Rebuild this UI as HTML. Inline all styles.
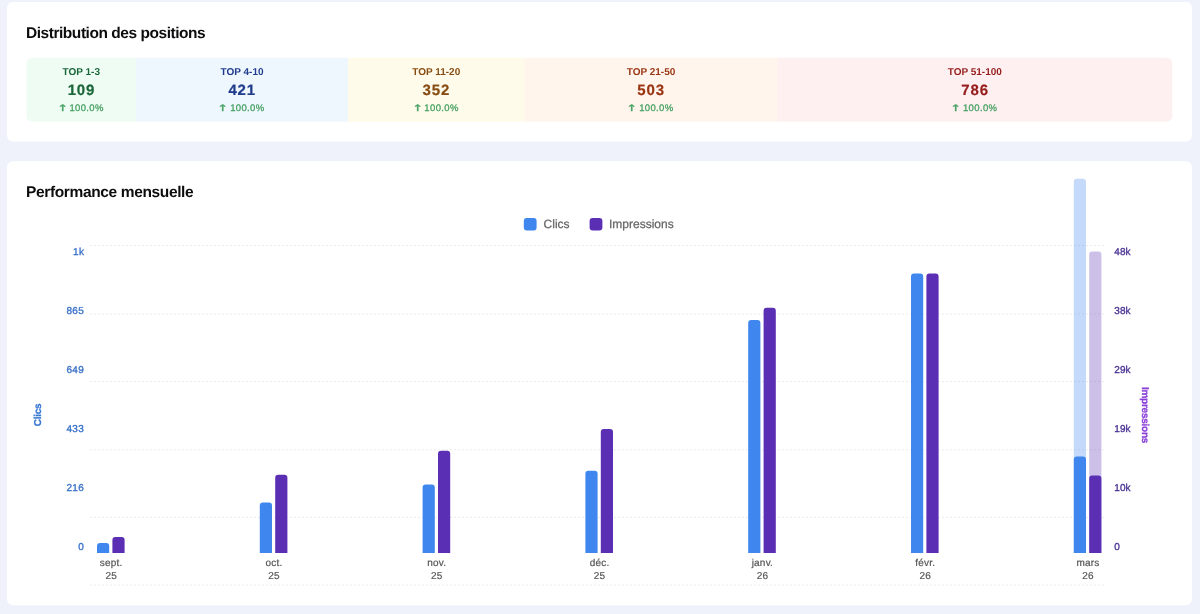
<!DOCTYPE html>
<html lang="fr">
<head>
<meta charset="utf-8">
<title>Distribution des positions</title>
<style>
*{box-sizing:border-box;margin:0;padding:0}
html,body{width:1200px;height:614px;overflow:hidden}
body{background:#eff2fa;font-family:"Liberation Sans",sans-serif;position:relative;color:#111;text-rendering:geometricPrecision}
h2{position:absolute;left:26px;font-size:15.5px;font-weight:700;color:#0d0d0f;white-space:nowrap;line-height:20px}
#t1{top:23.8px;letter-spacing:-.46px}
#t2{top:182.8px;letter-spacing:-.36px}
.seg{position:absolute;top:58px;height:64px;text-align:center}
.seg .l{position:absolute;left:0;right:0;top:9px;font-size:10px;font-weight:700;line-height:12px;letter-spacing:0}
.seg .v{position:absolute;left:0;right:0;top:23px;font-size:15px;font-weight:700;line-height:20px;letter-spacing:.9px;padding-left:.4px;-webkit-text-stroke:.2px currentColor}
.seg .d{position:absolute;left:0;right:.8px;top:45px;font-size:9.5px;font-weight:400;line-height:12px;color:#45a061;letter-spacing:.36px;-webkit-text-stroke:.28px #45a061}
.ar{font-family:"DejaVu Sans",sans-serif;font-size:9px;line-height:10px;letter-spacing:0;display:inline-block;transform:scaleX(1.5);margin-left:.6px;margin-right:.3px}
.s1{color:#196638}
.s2{color:#1f3b8c}
.s3{color:#874c12}
.s4{color:#9a3614}
.s5{color:#961d1d}
svg{position:absolute;left:0;top:0}
.card{fill:#fff}
.g{stroke:#e9eaed;stroke-width:1;stroke-dasharray:2 2}
.b{fill:#3f86ee}
.p{fill:#5b2fb3}
.bg{fill:#3f86ee;fill-opacity:.3}
.pg{fill:#5b2fb3;fill-opacity:.3}
.yl{position:absolute;font-size:10px;line-height:12px;color:#3a72c9;text-align:right;width:40px;left:44.3px;letter-spacing:.4px;margin-top:1px;-webkit-text-stroke:.35px #3a72c9}
.yr{position:absolute;font-size:10px;line-height:12px;color:#4d3596;text-align:left;width:40px;left:1114.3px;letter-spacing:.05px;margin-top:1px;-webkit-text-stroke:.35px #4d3596}
.xl{position:absolute;width:60px;text-align:center;font-size:10px;line-height:12.5px;color:#555;top:558.4px;letter-spacing:.2px;-webkit-text-stroke:.2px #555}
.leg{position:absolute;top:217.3px;font-size:12px;line-height:14px;color:#666;white-space:nowrap;-webkit-text-stroke:.25px #666}
.ax{position:absolute;font-size:10px;font-weight:700;line-height:12px;white-space:nowrap;letter-spacing:-.25px}
</style>
</head>
<body>
<svg width="1200" height="614" viewBox="0 0 1200 614">
<rect class="card" x="7.0" y="2" width="1185.0" height="139.6" rx="6"/>
<rect class="card" x="7.0" y="161.2" width="1185.0" height="444" rx="6"/>
<clipPath id="sc"><rect x="26.3" y="57.4" width="1146.0" height="64.4" rx="6"/></clipPath>
<g clip-path="url(#sc)">
<rect x="26.3" y="57.4" width="110.5" height="64.4" fill="#effcf3"/>
<rect x="136.3" y="57.4" width="212.0" height="64.4" fill="#eef6fe"/>
<rect x="347.8" y="57.4" width="177.4" height="64.4" fill="#fffbea"/>
<rect x="524.7" y="57.4" width="253.2" height="64.4" fill="#fff5ec"/>
<rect x="777.4" y="57.4" width="395.4" height="64.4" fill="#fef0f0"/>
</g>
<line class="g" x1="90" x2="1106" y1="245.6" y2="245.6"/>
<line class="g" x1="90" x2="1106" y1="314.0" y2="314.0"/>
<line class="g" x1="90" x2="1106" y1="381.6" y2="381.6"/>
<line class="g" x1="90" x2="1106" y1="449.8" y2="449.8"/>
<line class="g" x1="90" x2="1106" y1="517.3" y2="517.3"/>
<line class="g" x1="90" x2="1106" y1="585.1" y2="585.1"/>
<rect class="b" x="523.8" y="218" width="12.8" height="12.6" rx="3"/>
<rect class="p" x="589.6" y="218" width="12.8" height="12.6" rx="3"/>
<path class="bg" d="M1073.8 552.9V181.7a3 3 0 0 1 3 -3h6.2a3 3 0 0 1 3 3V552.9z"/>
<path class="pg" d="M1089.2 552.9V254.4a3 3 0 0 1 3 -3h6.2a3 3 0 0 1 3 3V552.9z"/>
<path class="b" d="M97.0 552.9V546.0a3 3 0 0 1 3 -3h6.2a3 3 0 0 1 3 3V552.9z"/>
<path class="p" d="M112.4 552.9V540.0a3 3 0 0 1 3 -3h6.2a3 3 0 0 1 3 3V552.9z"/>
<path class="b" d="M259.8 552.9V505.4a3 3 0 0 1 3 -3h6.2a3 3 0 0 1 3 3V552.9z"/>
<path class="p" d="M275.2 552.9V477.7a3 3 0 0 1 3 -3h6.2a3 3 0 0 1 3 3V552.9z"/>
<path class="b" d="M422.6 552.9V487.4a3 3 0 0 1 3 -3h6.2a3 3 0 0 1 3 3V552.9z"/>
<path class="p" d="M438.0 552.9V453.7a3 3 0 0 1 3 -3h6.2a3 3 0 0 1 3 3V552.9z"/>
<path class="b" d="M585.4 552.9V473.7a3 3 0 0 1 3 -3h6.2a3 3 0 0 1 3 3V552.9z"/>
<path class="p" d="M600.8 552.9V432.0a3 3 0 0 1 3 -3h6.2a3 3 0 0 1 3 3V552.9z"/>
<path class="b" d="M748.2 552.9V323.0a3 3 0 0 1 3 -3h6.2a3 3 0 0 1 3 3V552.9z"/>
<path class="p" d="M763.6 552.9V310.7a3 3 0 0 1 3 -3h6.2a3 3 0 0 1 3 3V552.9z"/>
<path class="b" d="M911.0 552.9V276.4a3 3 0 0 1 3 -3h6.2a3 3 0 0 1 3 3V552.9z"/>
<path class="p" d="M926.4 552.9V276.4a3 3 0 0 1 3 -3h6.2a3 3 0 0 1 3 3V552.9z"/>
<path class="b" d="M1073.8 552.9V459.4a3 3 0 0 1 3 -3h6.2a3 3 0 0 1 3 3V552.9z"/>
<path class="p" d="M1089.2 552.9V478.4a3 3 0 0 1 3 -3h6.2a3 3 0 0 1 3 3V552.9z"/>
</svg>
<h2 id="t1">Distribution des positions</h2>
<div class="seg s1" style="left:26.30px;width:110.00px"><div class="l">TOP 1-3</div><div class="v">109</div><div class="d"><span class="ar">↑</span> 100.0%</div></div>
<div class="seg s2" style="left:136.30px;width:211.52px"><div class="l">TOP 4-10</div><div class="v">421</div><div class="d"><span class="ar">↑</span> 100.0%</div></div>
<div class="seg s3" style="left:347.82px;width:176.85px"><div class="l">TOP 11-20</div><div class="v">352</div><div class="d"><span class="ar">↑</span> 100.0%</div></div>
<div class="seg s4" style="left:524.67px;width:252.72px"><div class="l">TOP 21-50</div><div class="v">503</div><div class="d"><span class="ar">↑</span> 100.0%</div></div>
<div class="seg s5" style="left:777.39px;width:394.91px"><div class="l">TOP 51-100</div><div class="v">786</div><div class="d"><span class="ar">↑</span> 100.0%</div></div>
<h2 id="t2">Performance mensuelle</h2>
<div class="leg" style="left:543.6px">Clics</div>
<div class="leg" style="left:609px">Impressions</div>
<div class="yl" style="top:245.6px">1k</div>
<div class="yr" style="top:245.6px">48k</div>
<div class="yl" style="top:304.7px">865</div>
<div class="yr" style="top:304.7px">38k</div>
<div class="yl" style="top:363.8px">649</div>
<div class="yr" style="top:363.8px">29k</div>
<div class="yl" style="top:422.9px">433</div>
<div class="yr" style="top:422.9px">19k</div>
<div class="yl" style="top:482.0px">216</div>
<div class="yr" style="top:482.0px">10k</div>
<div class="yl" style="top:541.1px">0</div>
<div class="yr" style="top:541.1px">0</div>
<div class="ax" style="left:38.8px;top:415.2px;color:#3a78d2;-webkit-text-stroke:.3px #3a78d2;transform:translate(-50%,-50%) rotate(-90deg)">Clics</div>
<div class="ax" style="left:1143.6px;top:415px;color:#8a3fd8;-webkit-text-stroke:.3px #8a3fd8;transform:translate(-50%,-50%) rotate(90deg)">Impressions</div>
<div class="xl" style="left:81.2px">sept.<br>25</div>
<div class="xl" style="left:244.0px">oct.<br>25</div>
<div class="xl" style="left:406.8px">nov.<br>25</div>
<div class="xl" style="left:569.6px">déc.<br>25</div>
<div class="xl" style="left:732.4px">janv.<br>26</div>
<div class="xl" style="left:895.2px">févr.<br>26</div>
<div class="xl" style="left:1058.0px">mars<br>26</div>
</body>
</html>
